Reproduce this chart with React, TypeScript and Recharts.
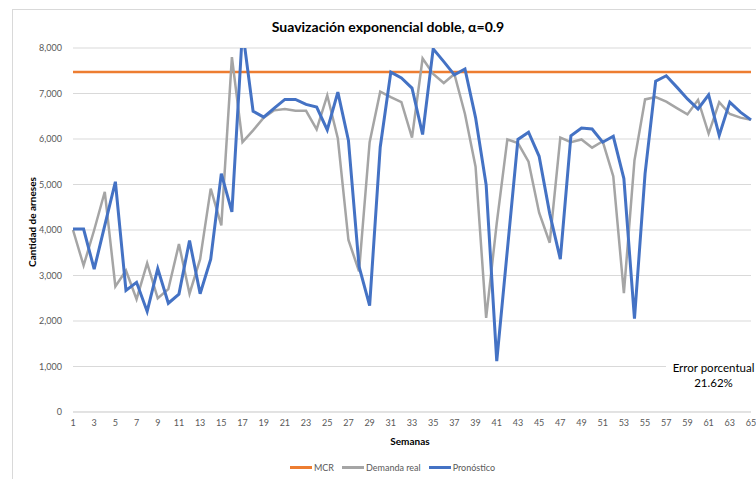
import React from 'react';
import { LineChart, Line, XAxis, YAxis, CartesianGrid } from 'recharts';

const weeks = Array.from({ length: 65 }, (_, i) => i + 1);

const mcr = 7470;

const demandaReal = [
  4000, 3220, 4000, 4840, 2760, 3110, 2480, 3270, 2500, 2700,
  3690, 2600, 3360, 4910, 4100, 7800, 5930, 6190, 6470, 6630,
  6660, 6620, 6620, 6210, 6960, 6010, 3780, 3090, 5930, 7040,
  6920, 6810, 6030, 7770, 7430, 7230, 7430, 6550, 5390, 2070,
  4150, 5990, 5910, 5500, 4380, 3720, 6030, 5930, 5990, 5810,
  5950, 5180, 2610, 5530, 6870, 6920, 6820, 6680, 6540, 6860,
  6120, 6810, 6550, 6470, 6420,
];

const pronostico = [
  4020, 4020, 3140, 4100, 5060, 2670, 2850, 2210, 3150, 2390,
  2590, 3770, 2600, 3360, 5240, 4400, 8400, 6610, 6480, 6680,
  6870, 6870, 6760, 6700, 6200, 7030, 5970, 3200, 2340, 5820,
  7470, 7340, 7120, 6100, 7980, 7700, 7410, 7540, 6470, 4990,
  1120, 3560, 5990, 6150, 5620, 4360, 3360, 6070, 6240, 6220,
  5930, 6060, 5130, 2050, 5240, 7270, 7390, 7140, 6880, 6660,
  6970, 6080, 6810, 6590, 6420,
];

const yTicks = [0, 1000, 2000, 3000, 4000, 5000, 6000, 7000, 8000];

const series = [
  { key: 'mcr', name: 'MCR', color: '#ED7D31', width: 2.5 },
  { key: 'real', name: 'Demanda real', color: '#A5A5A5', width: 2.5 },
  { key: 'pron', name: 'Pronóstico', color: '#4472C4', width: 3 },
];

const data = weeks.map((w, i) => ({
  week: w,
  mcr,
  real: demandaReal[i],
  pron: pronostico[i],
}));

const font = 'Lato, "Open Sans", sans-serif';

export default function App() {
  return (
    <div
      style={{
        position: 'absolute',
        left: 0,
        top: 0,
        width: 756,
        height: 479,
        overflow: 'hidden',
        background: '#fff',
        fontFamily: font,
      }}
    >
      {/* chart area frame, cut off at right and bottom */}
      <div
        style={{
          position: 'absolute',
          left: 12,
          top: 9,
          width: 800,
          height: 520,
          border: '1px solid #d9d9d9',
        }}
      />
      <LineChart
        width={756}
        height={479}
        data={data}
        margin={{ top: 48, right: 5, bottom: 37, left: 0 }}
        style={{ position: 'absolute', left: 0, top: 0 }}
      >
        <CartesianGrid vertical={false} stroke="#d9d9d9" />
        <XAxis
          dataKey="week"
          interval={1}
          tickLine={false}
          tickSize={0}
          tickMargin={8}
          axisLine={{ stroke: '#d9d9d9' }}
          tick={{ fontSize: 9, fill: '#595959', fontFamily: font }}
          height={30}
        />
        <YAxis
          width={73}
          domain={[0, 8000]}
          ticks={yTicks}
          allowDataOverflow
          axisLine={false}
          tickLine={false}
          tickSize={0}
          tickMargin={11}
          tickFormatter={(v: number) => v.toLocaleString('en-US')}
          tick={{ fontSize: 9, fill: '#595959', fontFamily: font }}
        />
        {series.map((s) => (
          <Line
            key={s.key}
            dataKey={s.key}
            name={s.name}
            stroke={s.color}
            strokeWidth={s.width}
            dot={false}
            isAnimationActive={false}
          />
        ))}
      </LineChart>

      <div
        style={{
          position: 'absolute',
          left: 0,
          top: 18,
          width: 776,
          textAlign: 'center',
          fontSize: 14,
          fontWeight: 700,
          color: '#000',
        }}
      >
        Suavización exponencial doble, α=0.9
      </div>

      <div
        style={{
          position: 'absolute',
          left: 32,
          top: 222,
          transform: 'translate(-50%, -50%) rotate(-90deg)',
          whiteSpace: 'nowrap',
          fontSize: 10,
          fontWeight: 700,
          color: '#000',
        }}
      >
        Cantidad de arneses
      </div>

      <div
        style={{
          position: 'absolute',
          left: 360,
          top: 435,
          width: 100,
          textAlign: 'center',
          fontSize: 10,
          fontWeight: 700,
          color: '#000',
        }}
      >
        Semanas
      </div>

      {/* legend */}
      <div
        style={{
          position: 'absolute',
          left: 290,
          top: 462,
          display: 'flex',
          alignItems: 'center',
          fontSize: 9,
          color: '#595959',
          whiteSpace: 'nowrap',
        }}
      >
        {series.map((s) => (
          <div key={s.key} style={{ display: 'flex', alignItems: 'center', marginRight: 8 }}>
            <span
              style={{
                display: 'inline-block',
                width: 22,
                height: 3,
                background: s.color,
                marginRight: 2,
              }}
            />
            <span>{s.name}</span>
          </div>
        ))}
      </div>

      <div
        style={{
          position: 'absolute',
          left: 666,
          top: 360,
          width: 90,
          boxSizing: 'border-box',
          paddingLeft: 5,
          background: '#fff',
          whiteSpace: 'nowrap',
          fontSize: 11.5,
          lineHeight: '15px',
          color: '#000',
          textAlign: 'center',
        }}
      >
        <div>Error porcentual</div>
        <div>21.62%</div>
      </div>
    </div>
  );
}
